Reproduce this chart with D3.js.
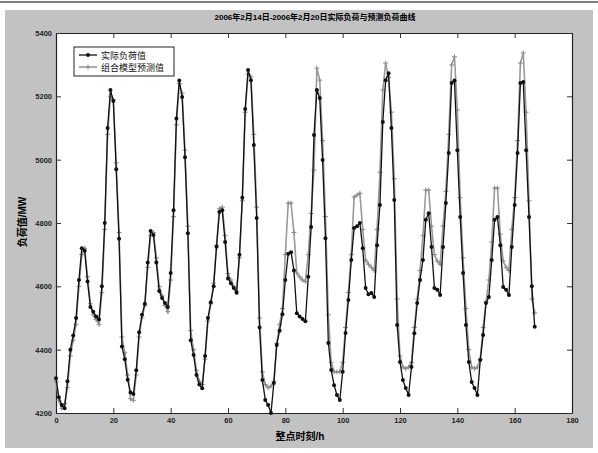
<!DOCTYPE html>
<html lang="zh">
<head>
<meta charset="utf-8">
<title>负荷预测曲线</title>
<script src="https://d3js.org/d3.v7.min.js"></script>
<style>
  body { margin: 0; background: #ffffff; }
  text { font-family: "Liberation Sans", "Noto Sans CJK SC", sans-serif; }
</style>
</head>
<body>
<div id="mainDiv"></div>
<script>
// hourly load, 7 days x 24 h
const actual = [
  4310, 4250, 4225, 4215, 4300, 4400, 4445, 4500, 4620, 4720, 4712, 4615, 4535, 4520, 4505, 4495, 4600, 4800, 5100, 5220, 5185, 4970, 4750, 4410,
  4370, 4305, 4265, 4260, 4335, 4455, 4510, 4545, 4675, 4775, 4762, 4675, 4585, 4563, 4547, 4535, 4642, 4840, 5130, 5250, 5198, 5008, 4768, 4430,
  4383, 4320, 4290, 4278, 4380, 4500, 4550, 4600, 4725, 4835, 4840, 4740, 4625, 4610, 4595, 4580, 4700, 4880, 5160, 5283, 5251, 5046, 4816, 4470,
  4304, 4241, 4225, 4200, 4295, 4415, 4460, 4512, 4620, 4703, 4708, 4650, 4515, 4505, 4497, 4490, 4630, 4787, 5078, 5220, 5195, 4999, 4752, 4421,
  4336, 4288, 4257, 4241, 4330, 4453, 4557, 4683, 4784, 4790, 4800, 4720, 4595, 4575, 4579, 4566, 4730, 4857, 5119, 5251, 5273, 5100, 4873, 4478,
  4361, 4304, 4279, 4257, 4345, 4452, 4547, 4620, 4683, 4810, 4831, 4724, 4595, 4589, 4573, 4724, 4863, 5021, 5242, 5250, 5030, 4819, 4642, 4478,
  4361, 4298, 4279, 4257, 4367, 4446, 4547, 4566, 4683, 4810, 4819, 4730, 4598, 4589, 4573, 4724, 4857, 5021, 5242, 5245, 5030, 4819, 4600, 4472
]
const predicted = [
  4300, 4240, 4215, 4230, 4280, 4380, 4430, 4480, 4600, 4700, 4720, 4630, 4545, 4510, 4495, 4480, 4580, 4780, 5080, 5200, 5190, 4990, 4770, 4440,
  4390, 4320, 4245, 4240, 4320, 4440, 4500, 4540, 4660, 4760, 4770, 4690, 4600, 4570, 4540, 4520, 4620, 4820, 5110, 5240, 5210, 5030, 4790, 4460,
  4400, 4335, 4300, 4290, 4370, 4490, 4545, 4610, 4730, 4845, 4850, 4760, 4640, 4620, 4600, 4585, 4690, 4870, 5150, 5270, 5262, 5080, 4850, 4500,
  4330, 4290, 4280, 4285, 4300, 4420, 4480, 4530, 4700, 4863, 4863, 4770, 4642, 4630, 4620, 4615, 4700, 4830, 4967, 5289, 5251, 5060, 4820, 4510,
  4360, 4330, 4330, 4330, 4360, 4470, 4580, 4700, 4882, 4888, 4894, 4780, 4683, 4670, 4660, 4650, 4780, 4960, 5220, 5305, 5260, 5150, 4940, 4560,
  4380, 4345, 4340, 4345, 4360, 4470, 4560, 4650, 4760, 4904, 4904, 4790, 4700, 4680, 4670, 4790, 4900, 5080, 5299, 5325, 5157, 4880, 4690, 4530,
  4400, 4345, 4340, 4345, 4370, 4470, 4550, 4620, 4740, 4910, 4910, 4765, 4680, 4660, 4650, 4780, 4880, 5060, 5305, 5337, 5150, 4870, 4560, 4516
]
const xTicks = [0, 20, 40, 60, 80, 100, 120, 140, 160, 180]
const yTicks = [4200, 4400, 4600, 4800, 5000, 5200, 5400]
const seriesNames = ['实际负荷值', '组合模型预测值']
const titleText = '2006年2月14日-2006年2月20日实际负荷与预测负荷曲线'
const xLabel = '整点时刻/h'
const yLabel = '负荷值/MW'

const width = 598
const height = 453
const plot = { left: 56, right: 572, top: 33, bottom: 413 }

const svg = d3.select('#mainDiv').append('svg')
  .attr('width', width)
  .attr('height', height)

// figure background
svg.append('rect').attr('x', 0).attr('y', 0).attr('width', width).attr('height', height).attr('fill', '#ffffff')
svg.append('line').attr('x1', 0).attr('x2', width).attr('y1', 2).attr('y2', 2).attr('stroke', '#555').attr('stroke-width', 1.5)
svg.append('rect').attr('x', 5).attr('y', 10).attr('width', 588).attr('height', 438).attr('fill', '#c2c2c2')

const x = d3.scaleLinear().domain([0, 180]).range([plot.left, plot.right])
const y = d3.scaleLinear().domain([4200, 5400]).range([plot.bottom, plot.top])

svg.append('rect')
  .attr('x', plot.left).attr('y', plot.top)
  .attr('width', plot.right - plot.left).attr('height', plot.bottom - plot.top)
  .attr('fill', '#ffffff')

const tickLen = 5
const fmt = d3.format('d')

// axes, MATLAB style: ticks inside on all four sides
const axB = svg.append('g').attr('transform', `translate(0,${plot.bottom})`)
  .call(d3.axisBottom(x).tickValues(xTicks).tickFormat(fmt).tickSizeInner(-tickLen).tickSizeOuter(0).tickPadding(5))
const axT = svg.append('g').attr('transform', `translate(0,${plot.top})`)
  .call(d3.axisTop(x).tickValues(xTicks).tickFormat('').tickSizeInner(-tickLen).tickSizeOuter(0))
const axL = svg.append('g').attr('transform', `translate(${plot.left},0)`)
  .call(d3.axisLeft(y).tickValues(yTicks).tickFormat(fmt).tickSizeInner(-tickLen).tickSizeOuter(0).tickPadding(4))
const axR = svg.append('g').attr('transform', `translate(${plot.right},0)`)
  .call(d3.axisRight(y).tickValues(yTicks).tickFormat('').tickSizeInner(-tickLen).tickSizeOuter(0))

;[axB, axT, axL, axR].forEach(g => {
  g.select('.domain').attr('stroke', '#222').attr('stroke-width', 1.2)
  g.selectAll('.tick line').attr('stroke', '#333')
  g.selectAll('.tick text').attr('font-size', 7.5).attr('font-weight', 'bold').attr('fill', '#222')
})

const hours = d3.range(actual.length)

const line = d3.line()
  .x(i => x(i))

// predicted (grey, + markers)
svg.append('path')
  .attr('d', line.y(i => y(predicted[i]))(hours))
  .attr('fill', 'none').attr('stroke', '#9a9a9a').attr('stroke-width', 1.6)

svg.append('g').selectAll('path')
  .data(hours)
  .join('path')
  .attr('d', i => `M${x(i) - 2.5},${y(predicted[i])}h5M${x(i)},${y(predicted[i]) - 2.5}v5`)
  .attr('stroke', '#8a8a8a').attr('stroke-width', 1)

// actual (black, dot markers)
svg.append('path')
  .attr('d', line.y(i => y(actual[i]))(hours))
  .attr('fill', 'none').attr('stroke', '#111').attr('stroke-width', 1.3)

svg.append('g').selectAll('circle')
  .data(hours)
  .join('circle')
  .attr('cx', i => x(i))
  .attr('cy', i => y(actual[i]))
  .attr('r', 2)
  .attr('fill', '#111')

// legend
const lg = svg.append('g')
lg.append('rect').attr('x', 74).attr('y', 47).attr('width', 100).attr('height', 29)
  .attr('fill', '#fff').attr('stroke', '#222').attr('stroke-width', 1)
lg.append('line').attr('x1', 79).attr('x2', 97).attr('y1', 55).attr('y2', 55).attr('stroke', '#111').attr('stroke-width', 1.3)
lg.append('circle').attr('cx', 88).attr('cy', 55).attr('r', 2).attr('fill', '#111')
lg.append('line').attr('x1', 79).attr('x2', 97).attr('y1', 67).attr('y2', 67).attr('stroke', '#9a9a9a').attr('stroke-width', 1.6)
lg.append('path').attr('d', 'M85.5,67h5M88,64.5v5').attr('stroke', '#8a8a8a')
lg.selectAll('text.name')
  .data(seriesNames)
  .join('text')
  .attr('class', 'name')
  .attr('x', 101)
  .attr('y', (d, i) => 58.5 + i * 12)
  .attr('font-size', 9)
  .attr('fill', '#111')
  .text(d => d)

// title and axis labels
svg.append('text')
  .attr('x', 315).attr('y', 20)
  .attr('text-anchor', 'middle')
  .attr('font-size', 8).attr('font-weight', 'bold')
  .text(titleText)

svg.append('text')
  .attr('x', 300).attr('y', 440)
  .attr('text-anchor', 'middle')
  .attr('font-size', 10).attr('font-weight', 'bold')
  .text(xLabel)

svg.append('text')
  .attr('transform', 'translate(26,222) rotate(-90)')
  .attr('text-anchor', 'middle')
  .attr('font-size', 10).attr('font-weight', 'bold')
  .text(yLabel)
</script>
</body>
</html>
